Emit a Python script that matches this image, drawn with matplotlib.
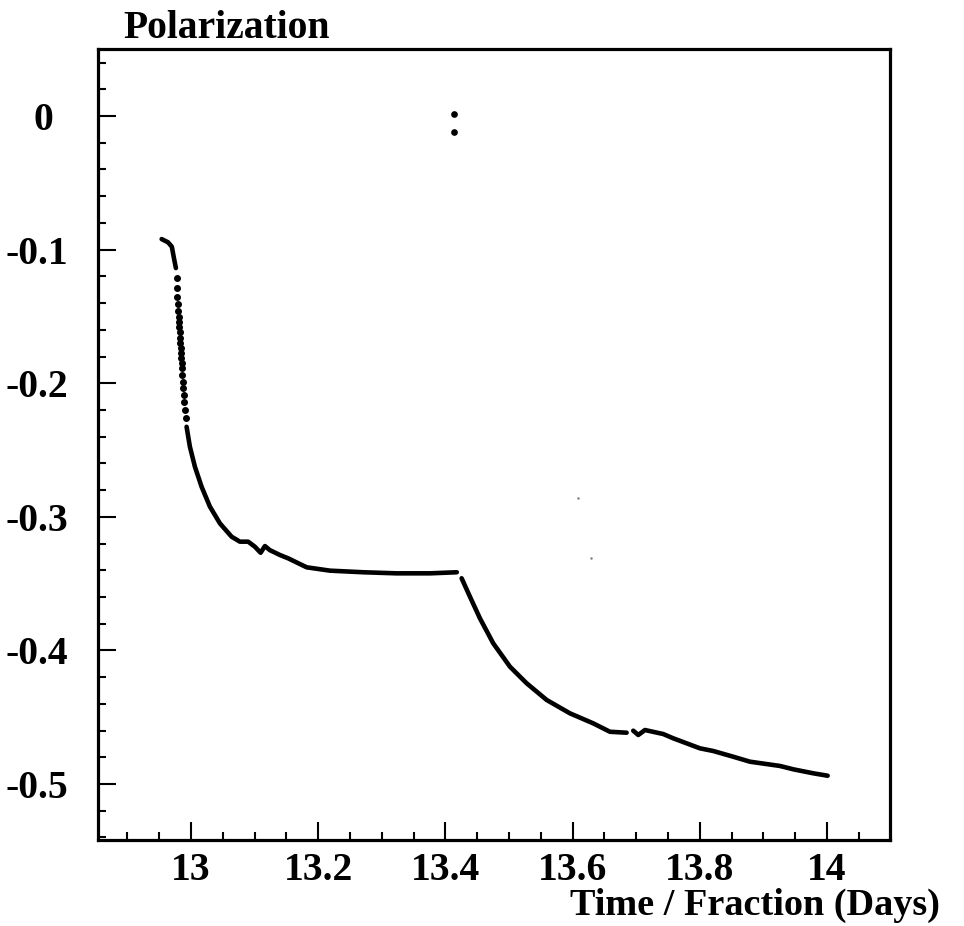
#!/usr/bin/env python3
"""
Polarization vs. time (fraction of days), ROOT-style scatter.

Usage:
    python plot.py
"""

import matplotlib
matplotlib.use('Agg')
import matplotlib.pyplot as plt
from matplotlib.ticker import FixedLocator, MultipleLocator
from matplotlib.transforms import ScaledTranslation

# --- data ---

# dense start of the run (before the steep drop)
head_t = [12.954, 12.964, 12.970, 12.9733, 12.9764]
head_p = [-0.0921, -0.0945, -0.0978, -0.1063, -0.1138]

# steep drop, individual points are visible here
drop_t = [12.9775, 12.9780, 12.9785, 12.9791, 12.9796, 12.9807, 12.9811,
          12.9816, 12.9822, 12.9827, 12.9832, 12.9838, 12.9843, 12.9847,
          12.9854, 12.9858, 12.9863, 12.9869, 12.9874, 12.9885, 12.9890,
          12.9906, 12.9921]
drop_p = [-0.1215, -0.1290, -0.1353, -0.1407, -0.1460, -0.1502, -0.1540,
          -0.1577, -0.1615, -0.1664, -0.1701, -0.1739, -0.1776, -0.1814,
          -0.1851, -0.1888, -0.1939, -0.1989, -0.2038, -0.2088, -0.2138,
          -0.2201, -0.2263]

# first relaxation up to the plateau
seg1_t = [12.9932, 12.9984, 13.0063, 13.0168, 13.0299, 13.0456, 13.064,
          13.077, 13.090, 13.1006, 13.1096, 13.1164, 13.124, 13.140, 13.153,
          13.182, 13.2186, 13.271, 13.323, 13.376, 13.418]
seg1_p = [-0.2326, -0.2475, -0.2625, -0.2775, -0.2924, -0.3049, -0.3149,
          -0.3186, -0.3186, -0.3224, -0.3269, -0.3219, -0.3249, -0.3286,
          -0.3311, -0.3378, -0.3403, -0.3415, -0.3423, -0.3423, -0.3415]

# two outliers near zero
jump_t = [13.414, 13.414]
jump_p = [0.0013, -0.0120]

# second relaxation
seg2_t = [13.4256, 13.4387, 13.4544, 13.4753, 13.5016, 13.5278, 13.5593,
          13.5959, 13.6325, 13.6588, 13.685]
seg2_p = [-0.3460, -0.3598, -0.3760, -0.3947, -0.4122, -0.4246, -0.4371,
          -0.4471, -0.4546, -0.4609, -0.4616]

seg3_t = [13.6954, 13.7033, 13.7138, 13.7426, 13.7583, 13.8003, 13.8212,
          13.8527, 13.8789, 13.9261, 13.947, 13.9785, 14.001]
seg3_p = [-0.4601, -0.4633, -0.4596, -0.4626, -0.4658, -0.4733, -0.4753,
          -0.4796, -0.4833, -0.4865, -0.4890, -0.4920, -0.4938]

# faint stray points
stray_t = [13.6085, 13.629]
stray_p = [-0.286, -0.331]

x_ticks = [13.0, 13.2, 13.4, 13.6, 13.8, 14.0]
x_labels = ['13', '13.2', '13.4', '13.6', '13.8', '14']
y_ticks = [0.0, -0.1, -0.2, -0.3, -0.4, -0.5]
y_labels = ['0', '-0.1', '-0.2', '-0.3', '-0.4', '-0.5']

FONT = 'Liberation Serif'


def plot_polarization(save_path='out.png'):
    fig = plt.figure(figsize=(9.64, 9.26), dpi=100)
    ax = fig.add_axes([0.1017, 0.0929, 0.8215, 0.8542])

    line_kw = dict(color='black', lw=3.3, solid_capstyle='round',
                   solid_joinstyle='round')
    ax.plot(head_t, head_p, **line_kw)
    ax.plot(drop_t, drop_p, ls='none', marker='o', ms=4.0, color='black')
    ax.plot(seg1_t, seg1_p, **line_kw)
    ax.plot(seg2_t, seg2_p, **line_kw)
    ax.plot(seg3_t, seg3_p, **line_kw)
    ax.plot(jump_t, jump_p, ls='none', marker='o', ms=3.8, color='black')
    ax.plot(stray_t, stray_p, ls='none', marker='o', ms=0.8, color='0.5')

    ax.set_xlim(12.854, 14.099)
    ax.set_ylim(-0.5419, 0.0502)

    ax.xaxis.set_major_locator(FixedLocator(x_ticks))
    ax.yaxis.set_major_locator(FixedLocator(y_ticks))
    ax.xaxis.set_minor_locator(MultipleLocator(0.05))
    ax.yaxis.set_minor_locator(MultipleLocator(0.02))
    ax.set_xticklabels(x_labels, fontfamily=FONT, fontweight='bold', fontsize=28.5)
    ax.set_yticklabels(y_labels, fontfamily=FONT, fontweight='bold', fontsize=28.5)

    ax.tick_params(which='both', direction='in', top=False, right=False,
                   width=1.5, color='black')
    ax.tick_params(which='major', length=13)
    ax.tick_params(which='minor', length=6)
    ax.tick_params(axis='x', which='major', pad=9)
    ax.tick_params(axis='y', which='major', pad=21.5)

    for side in ax.spines.values():
        side.set_linewidth(2.3)

    # ROOT puts the "0" label further from the axis than the others
    off = ScaledTranslation(-15 / 100, 0, fig.dpi_scale_trans)
    zero_label = ax.get_yticklabels()[0]
    zero_label.set_transform(zero_label.get_transform() + off)

    fig.text(123 / 964, 1 - 28 / 926, 'Polarization', fontfamily=FONT,
             fontweight='bold', fontsize=28.5, ha='left', va='center')
    fig.text(940 / 964, 1 - 905 / 926, 'Time / Fraction (Days)', fontfamily=FONT,
             fontweight='bold', fontsize=27.5, ha='right', va='center')

    fig.savefig(save_path, dpi=100)


def main():
    plot_polarization('out.png')


if __name__ == '__main__':
    main()
